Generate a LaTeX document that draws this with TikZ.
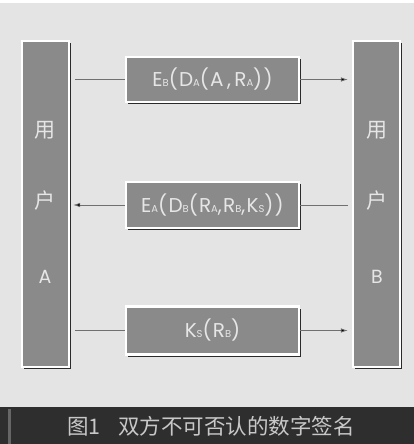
\documentclass[tikz,border=0pt]{standalone}
\usepackage{fontspec}
\setmainfont{Poppins}
\newfontfamily\boxfont[LetterSpace=6]{Poppins}
\newfontfamily\cjk{Noto Sans CJK SC}
\usetikzlibrary{arrows.meta}
\definecolor{bgc}{HTML}{E4E4E4}
\definecolor{boxc}{HTML}{8A8A8A}
\definecolor{shadc}{HTML}{2A2A2A}
\definecolor{txtc}{HTML}{E6E6E6}
\definecolor{capc}{HTML}{2E2E2E}
\definecolor{captx}{HTML}{C8C8C8}
\definecolor{linec}{HTML}{707070}
\newcommand{\subl}[1]{{\fontsize{10}{10}\selectfont #1}}
\tikzset{
  bevel/.style={draw=white, line width=2.4pt, fill=boxc, inner sep=0pt,
    preaction={fill=shadc, transform canvas={xshift=2.2pt, yshift=-2.2pt}},
    text=txtc, font=\boxfont\fontsize{20}{20}\selectfont},
  conn/.style={draw=linec, line width=0.7pt},
  arr/.style={conn, -{Latex[length=7pt,width=4.5pt,fill=black]}},
  bartext/.style={text=txtc, font=\cjk\fontsize{21}{21}\selectfont},
  bartextl/.style={text=txtc, font=\fontsize{19}{19}\selectfont}
}
\begin{document}
\begin{tikzpicture}[x=1pt,y=-1pt]
\useasboundingbox (0,0) rectangle (414,444);
\fill[white] (0,0) rectangle (414,444);
\fill[bgc] (0,3) rectangle (414,407);
% caption bar
\fill[capc] (0,407) rectangle (414,444);
\fill[black!60] (8,409) rectangle (11,444);
\node[text=captx, font=\cjk\fontsize{21.5}{21.5}\selectfont, anchor=center] (cap) at (211,426) {图1\hspace{0.8em}双方不可否认的数字签名};
% user bars
\node[bevel, minimum width=47pt, minimum height=326pt] (L) at (45.5,204) {};
\node[bevel, minimum width=47pt, minimum height=326pt] (R) at (376.5,204) {};
\node[bartext] (L1) at (45,130) {用};
\node[bartext] (L2) at (45,201) {户};
\node[bartextl] (L3) at (45,277) {A};
\node[bartext] (R1) at (377,130) {用};
\node[bartext] (R2) at (377,201) {户};
\node[bartextl] (R3) at (377,277) {B};
% message boxes
\node[bevel, minimum width=173pt, minimum height=45pt] (b1) at (212.5,79.5) {E\subl{B}(D\subl{A}(A\,,\,R\subl{A}))};
\node[bevel, minimum width=173pt, minimum height=46pt] (b2) at (212.5,205) {E\subl{A}(D\subl{B}(R\subl{A},R\subl{B},K\subl{S}))};
\node[bevel, minimum width=173pt, minimum height=48pt] (b3) at (212.5,330.5) {K\subl{S}(R\subl{B})};
% connectors
\draw[conn, shorten <=5pt] (b1.west -| L.east) -- (b1.west);
\draw[arr, shorten >=4pt] (b1.east) -- (b1.east -| R.west);
\draw[conn, shorten <=4pt] (b2.east -| R.west) -- (b2.east);
\draw[arr, shorten >=3pt] (b2.west) -- (b2.west -| L.east);
\draw[conn, shorten <=5pt] (b3.west -| L.east) -- (b3.west);
\draw[arr, shorten >=4pt] (b3.east) -- (b3.east -| R.west);
\end{tikzpicture}
\end{document}
